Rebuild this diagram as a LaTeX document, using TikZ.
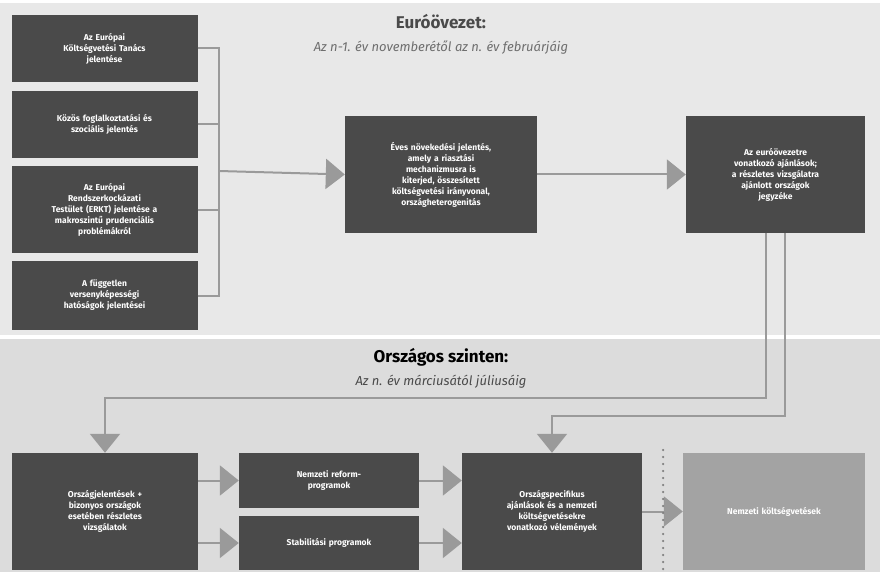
\documentclass[tikz,border=0pt]{standalone}
\usepackage{fontspec}
\setmainfont{Fira Sans}
\usetikzlibrary{arrows.meta}
\definecolor{boxgray}{HTML}{4A4A4A}
\definecolor{lightbox}{HTML}{A3A3A3}
\definecolor{linegray}{HTML}{9A9A9A}
\definecolor{topband}{HTML}{E8E8E8}
\definecolor{lowband}{HTML}{DCDCDC}
\tikzset{
  box/.style={rectangle, fill=boxgray, text=white, font=\bfseries\fontsize{8.5}{11}\selectfont,
    align=center, inner sep=3pt},
  line/.style={draw=linegray, line width=2pt},
  arr/.style={line, -{Triangle[length=19pt,width=30pt]}}
}
\begin{document}
\begin{tikzpicture}[x=1pt,y=-1pt]
      \useasboundingbox (0,0) rectangle (880,572);
      \fill[white] (0,0) rectangle (880,572);
      \fill[topband] (0,3) rectangle (880,335);
      \fill[lowband] (0,339) rectangle (880,572);

      \node at (441,22) [font=\bfseries\fontsize{17}{20}\selectfont, text=boxgray] (title-euro) {Euróövezet:};
      \node at (441,47) [font=\itshape\fontsize{13}{15}\selectfont, text=boxgray!80] (sub-euro) {Az n-1. év novemberétől az n. év februárjáig};
      \node at (441,357) [font=\bfseries\fontsize{17}{20}\selectfont] (title-nat) {Országos szinten:};
      \node at (441,382) [font=\itshape\fontsize{13}{15}\selectfont, text=boxgray] (sub-nat) {Az n. év márciusától júliusáig};

      % euro area inputs
      \node at (104.5,48.5) [box, text width=180pt, minimum width=186pt, minimum height=67pt] (ebt) {Az Európai\\Költségvetési Tanács\\jelentése};
      \node at (104.5,124.5) [box, text width=180pt, minimum width=186pt, minimum height=67pt] (social) {Közös foglalkoztatási és\\szociális jelentés};
      \node at (104.5,209.5) [box, text width=180pt, minimum width=186pt, minimum height=87pt] (erkt) {Az Európai\\Rendszerkockázati\\Testület (ERKT) jelentése a\\makroszintű prudenciális\\problémákról};
      \node at (104.5,295.5) [box, text width=180pt, minimum width=186pt, minimum height=69pt] (compet) {A független\\versenyképességi\\hatóságok jelentései};
      \node at (441,174.5) [box, text width=186pt, minimum width=192pt, minimum height=117pt] (growth) {Éves növekedési jelentés,\\amely a riasztási\\mechanizmusra is\\kiterjed, összesített\\költségvetési irányvonal,\\országheterogenitás};
      \node at (775.5,174.5) [box, text width=173pt, minimum width=179pt, minimum height=117pt] (recom) {Az euróövezetre\\vonatkozó ajánlások;\\a részletes vizsgálatra\\ajánlott országok\\jegyzéke};

      % national level
      \node at (105,511.5) [box, text width=180pt, minimum width=186pt, minimum height=117pt] (country) {Országjelentések +\\bizonyos országok\\esetében részletes\\vizsgálatok};
      \node at (329,480.5) [box, text width=174pt, minimum width=180pt, minimum height=55pt] (reform) {Nemzeti reform-\\programok};
      \node at (329,543) [box, text width=174pt, minimum width=180pt, minimum height=54pt] (stab) {Stabilitási programok};
      \node at (552,511.5) [box, text width=174pt, minimum width=180pt, minimum height=117pt] (csr) {Országspecifikus\\ajánlások és a nemzeti\\költségvetésekre\\vonatkozó vélemények};
      \node at (774,511.5) [box, fill=lightbox, text width=176pt, minimum width=182pt, minimum height=117pt] (budget) {Nemzeti költségvetések};

      \coordinate (join) at (219,171);
      \draw[line] (ebt.east) -| (join);
      \draw[line] (social.east) -| (join);
      \draw[line] (erkt.east) -| (join);
      \draw[line] (compet.east) -| (join);
      \draw[arr] (join) -- (growth.west);
      \draw[arr] (growth.east) -- (recom.west);

      \draw[arr] ([xshift=-9.5pt]recom.south) -- ++(0,165) -| (country.north);
      \draw[arr] ([xshift=9.5pt]recom.south) -- ++(0,183) -| (csr.north);

      \draw[arr] (country.east |- reform) -- (reform.west);
      \draw[arr] (country.east |- stab) -- (stab.west);
      \draw[arr] (reform.east) -- (csr.west |- reform);
      \draw[arr] (stab.east) -- (csr.west |- stab);
      \draw[arr] (csr.east) -- (budget.west);

      \draw[boxgray!70, line width=2.5pt, line cap=round, dash pattern=on 0pt off 7pt] (663,450) -- (663,572);
\end{tikzpicture}
\end{document}
